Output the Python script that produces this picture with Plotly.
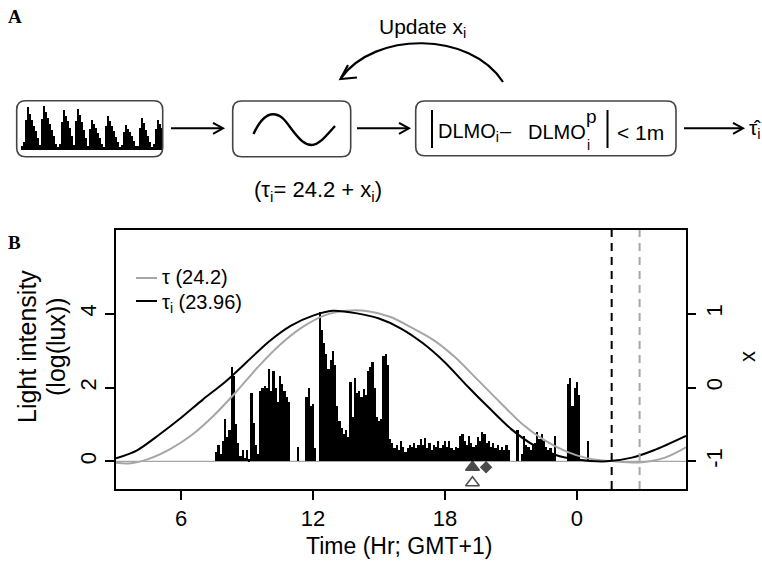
import plotly.graph_objects as go

W, H = 762, 561

# ---------------- data (panel B) ----------------
light_start = 7.5
light_step = 0.1
light_vals = [
    0, 0.25, 0.45, 0.2, 0.55, 1.15, 0.65, 0.85, 2.55, 2.3,          # 7.5-8.4
    1.0, 0.5, 0.15, 0.3, 0.1, 0.3, 0.05, 1.85, 1.05, 0.45,         # 8.5-9.4
    0.2, 1.9, 2.0, 2.05, 2.0, 2.5, 1.9, 2.45, 2.0, 1.6,            # 9.5-10.4
    2.3, 2.1, 1.9, 1.75, 1.6, 0, 0, 0, 0.4, 0,                     # 10.5-11.4
    0, 0, 1.75, 2.0, 1.5, 1.55, 0.35, 0, 4.05, 3.55,               # 11.5-12.4
    3.2, 2.9, 2.5, 2.75, 3.0, 2.6, 1.5, 1.1, 0.9, 0.75,            # 12.5-13.4
    0.85, 0.65, 2.15, 1.2, 2.25, 1.85, 1.9, 1.75, 1.95, 1.8,       # 13.5-14.4
    2.45, 2.55, 2.7, 2.0, 1.2, 1.1, 1.15, 2.85, 2.9, 2.6,          # 14.5-15.4
    0.6, 0.5, 0.35, 0.45, 0.3, 0.55, 0.4, 0.25, 0.35, 0.45,        # 15.5-16.4
    0.4, 0.5, 0.35, 0.45, 0.6, 0.45, 0.62, 0.35, 0.5, 0.3,         # 16.5-17.4
    0.45, 0.4, 0.55, 0.35, 0.45, 0.55, 0.4, 0.55, 0.35, 0.3,       # 17.5-18.4
    0.4, 0.35, 0.7, 0.75, 0.55, 0.45, 0.7, 0.5, 0.4, 0.45,         # 18.5-19.4
    0.65, 0.55, 0.8, 0.75, 0.5, 0.55, 0.4, 0.5, 0.35, 0.45,        # 19.5-20.4
    0.3, 0.4, 0.3, 0.45, 0.3, 0, 0, 0, 0.85, 0,                    # 20.5-21.4
    0.2, 0.7, 0.45, 0.4, 0.3, 0.45, 0.5, 0.8, 0.6, 0.75,           # 21.5-22.4
    0.55, 0.4, 0.3, 0.35, 0.2, 0.7, 0, 0, 0, 0,                    # 22.5-23.4
    0, 2.1, 2.25, 1.5, 2.0, 2.15, 1.8, 0, 0, 0,                    # 23.5-24.4
    0.55, 0,                                                       # 24.5-24.6
]
light_hours = [round(light_start + light_step * i, 2) for i in range(len(light_vals))]

# oscillator state x (right axis): tau_i = 23.96 (black) and tau = 24.2 (grey)
black_hours = [3.04, 4.0, 5.0, 6.0, 7.0, 8.0, 9.0, 10.0, 11.0, 12.0, 12.9, 14.0, 15.0,
               16.0, 17.0, 18.0, 19.0, 20.0, 21.0, 22.0, 23.0, 24.0, 25.36, 26.5, 27.5, 28.96]
black_x = [-0.96, -0.85, -0.64, -0.41, -0.16, 0.075, 0.35, 0.625, 0.84, 0.975, 1.04, 1.005, 0.935,
           0.8, 0.6, 0.34, 0.025, -0.275, -0.56, -0.775, -0.91, -0.975, -1.0, -0.95, -0.85, -0.655]
grey_hours = [3.04, 3.6, 4.5, 5.5, 6.5, 7.5, 8.5, 9.5, 10.5, 11.5, 12.5, 13.5, 14.5,
              15.5, 16.5, 17.5, 18.5, 19.5, 20.5, 21.5, 22.5, 23.5, 24.5, 25.7, 26.85, 28.0, 28.96]
grey_x = [-1.02, -1.03, -0.97, -0.835, -0.64, -0.375, -0.06, 0.28, 0.58, 0.815, 0.975, 1.04, 1.035,
          0.96, 0.81, 0.64, 0.4, 0.1, -0.2, -0.49, -0.71, -0.865, -0.96, -1.0, -1.015, -0.95, -0.81]

dlmo_black = 25.58
dlmo_grey = 26.85
marker_hours = [19.25, 19.87, 19.25]
marker_vals = [-0.16, -0.16, -0.58]
marker_symbols = ['triangle-up', 'diamond', 'triangle-up-open']
marker_sizes = [12, 8, 12]

x_tickvals = [6, 12, 18, 24]
x_ticktext = ['6', '12', '18', '0']
y_tickvals = [0, 2, 4]
y2_tickvals = [-1, 0, 1]
y2_ticktext = ['-1', '0', '1']

# ---------------- data (panel A icon: activity histogram) ----------------
mini_vals = [4, 8, 30, 43, 36, 30, 24, 19, 12, 5, 31, 44, 38, 32, 26, 20, 14, 6, 3, 6,
             28, 40, 34, 29, 22, 14, 5, 29, 41, 35, 28, 20, 12, 4, 21, 30, 26, 22, 17, 12,
             6, 3, 24, 34, 29, 24, 19, 13, 8, 3, 5, 18, 25, 21, 18, 14, 9, 4, 4, 22,
             32, 27, 20, 14, 8, 3, 6, 21, 30, 26, 22]
mini_x = [22 + 2 * i for i in range(len(mini_vals))]

FONT = "Liberation Sans, Arial, sans-serif"
SERIF = "Liberation Serif, Times New Roman, serif"
GREY = "#a6a6a6"

def P(px):
    return px / W

def Q(py):
    return 1 - py / H

fig = go.Figure()

# light bars
fig.add_trace(go.Bar(x=light_hours, y=light_vals, width=light_step,
                     marker=dict(color='black', line=dict(width=0)),
                     xaxis='x', yaxis='y', showlegend=False, hoverinfo='skip'))
# DLMO markers
fig.add_trace(go.Scatter(x=marker_hours, y=marker_vals, mode='markers',
                         marker=dict(symbol=marker_symbols, size=marker_sizes, color='black',
                                     line=dict(color='black', width=1.5)),
                         xaxis='x', yaxis='y', showlegend=False, hoverinfo='skip'))
# oscillator curves on the right axis
fig.add_trace(go.Scatter(x=grey_hours, y=grey_x, mode='lines',
                         line=dict(color=GREY, width=2, shape='spline', smoothing=0.8),
                         xaxis='x', yaxis='y2', showlegend=False, hoverinfo='skip'))
fig.add_trace(go.Scatter(x=black_hours, y=black_x, mode='lines',
                         line=dict(color='black', width=2, shape='spline', smoothing=0.8),
                         xaxis='x', yaxis='y2', showlegend=False, hoverinfo='skip'))

# mini histogram icon (panel A)
fig.add_trace(go.Bar(x=mini_x, y=[-v for v in mini_vals], base=150, width=2,
                     marker=dict(color='black', line=dict(width=0)),
                     xaxis='x3', yaxis='y3', showlegend=False, hoverinfo='skip'))

shapes = []
annotations = []

# baseline (grey) at 0
shapes.append(dict(type='line', xref='x domain', yref='y', x0=0, x1=1, y0=0, y1=0,
                   line=dict(color=GREY, width=1.2), layer='below'))
# DLMO dashed lines
shapes.append(dict(type='line', xref='x', yref='y domain', x0=dlmo_black, x1=dlmo_black, y0=0, y1=1,
                   line=dict(color='black', width=2, dash='8px,6px')))
shapes.append(dict(type='line', xref='x', yref='y domain', x0=dlmo_grey, x1=dlmo_grey, y0=0, y1=1,
                   line=dict(color=GREY, width=2, dash='8px,6px')))

# legend (manual)
shapes.append(dict(type='line', xref='paper', yref='paper', x0=P(136), x1=P(157), y0=Q(278), y1=Q(278),
                   line=dict(color=GREY, width=2)))
shapes.append(dict(type='line', xref='paper', yref='paper', x0=P(136), x1=P(157), y0=Q(301), y1=Q(301),
                   line=dict(color='black', width=2)))
annotations.append(dict(xref='paper', yref='paper', x=P(161), y=Q(277), xanchor='left', yanchor='middle',
                        text='τ (24.2)', showarrow=False, borderpad=0,
                        font=dict(size=20, color='black', family=FONT)))
annotations.append(dict(xref='paper', yref='paper', x=P(161), y=Q(303), xanchor='left', yanchor='middle',
                        text='τ<sub>i</sub> (23.96)', showarrow=False, borderpad=0,
                        font=dict(size=20, color='black', family=FONT)))

# axis titles panel B
annotations.append(dict(xref='paper', yref='paper', x=P(399), y=Q(546), xanchor='center', yanchor='middle',
                        text='Time (Hr; GMT+1)', showarrow=False, font=dict(size=23, color='black', family=FONT)))
annotations.append(dict(xref='paper', yref='paper', x=P(27), y=Q(347), xanchor='center', yanchor='middle',
                        text='Light intensity', textangle=-90, showarrow=False,
                        font=dict(size=25, color='black', family=FONT)))
annotations.append(dict(xref='paper', yref='paper', x=P(56), y=Q(347), xanchor='center', yanchor='middle',
                        text='(log(lux))', textangle=-90, showarrow=False,
                        font=dict(size=25, color='black', family=FONT)))
annotations.append(dict(xref='paper', yref='paper', x=P(747), y=Q(357), xanchor='center', yanchor='middle',
                        text='x', textangle=-90, showarrow=False,
                        font=dict(size=22, color='black', family=FONT)))

# panel labels
annotations.append(dict(xref='paper', yref='paper', x=P(6), y=Q(17), xanchor='left', yanchor='middle',
                        text='<b>A</b>', showarrow=False, font=dict(size=19, color='black', family=SERIF)))
annotations.append(dict(xref='paper', yref='paper', x=P(6), y=Q(243), xanchor='left', yanchor='middle',
                        text='<b>B</b>', showarrow=False, font=dict(size=19, color='black', family=SERIF)))

# ---------------- panel A diagram (pixel coordinates on hidden axes x3/y3) ----------------
def rrect(x0, y0, x1, y1, r):
    return (f"M{x0 + r},{y0} L{x1 - r},{y0} Q{x1},{y0} {x1},{y0 + r} L{x1},{y1 - r} "
            f"Q{x1},{y1} {x1 - r},{y1} L{x0 + r},{y1} Q{x0},{y1} {x0},{y1 - r} "
            f"L{x0},{y0 + r} Q{x0},{y0} {x0 + r},{y0} Z")

BOX = dict(color='#444444', width=1.6)
for (x0, y0, x1, y1) in [(16.7, 100.7, 162.7, 156.7), (232.7, 101, 350.7, 156.7), (415.7, 101, 676, 155.7)]:
    shapes.append(dict(type='path', xref='x3', yref='y3', path=rrect(x0, y0, x1, y1, 9), line=BOX))

def arrow(xa, xb, y):
    shapes.append(dict(type='line', xref='x3', yref='y3', x0=xa, x1=xb - 1, y0=y, y1=y,
                       line=dict(color='black', width=2)))
    shapes.append(dict(type='path', xref='x3', yref='y3',
                       path=f"M{xb - 10},{y - 5.5} L{xb},{y} L{xb - 10},{y + 5.5}",
                       line=dict(color='black', width=2)))

arrow(171, 223, 128.3)
arrow(357, 409, 128.3)
arrow(684, 743, 128.3)

# sine icon
shapes.append(dict(type='path', xref='x3', yref='y3',
                   path="M253.5,134 C260,120 266,114.3 273,114.3 C283,114.3 288,125 293,131 "
                        "C300,140 305,145 311.7,145 C319,145 326,136 335,126",
                   line=dict(color='black', width=2.4)))

# curved feedback arrow
shapes.append(dict(type='path', xref='x3', yref='y3',
                   path="M503,82 C470,31 375,31 341,78",
                   line=dict(color='black', width=2.2)))
shapes.append(dict(type='path', xref='x3', yref='y3',
                   path="M348,65 L340.5,79 L357,77.5",
                   line=dict(color='black', width=2.2)))

# vertical bars of the absolute value
for xb in (432, 607.5):
    shapes.append(dict(type='line', xref='x3', yref='y3', x0=xb, x1=xb, y0=110, y1=148,
                       line=dict(color='black', width=2)))

def ta(x, y, text, size=19, xanchor='left'):
    annotations.append(dict(xref='x3', yref='y3', x=x, y=y, xanchor=xanchor, yanchor='middle',
                            text=text, showarrow=False,
                            font=dict(size=size, color='black', family=FONT)))

ta(422, 28, 'Update x<sub>i</sub>', size=21, xanchor='center')
ta(318, 191, '(τ<sub>i</sub>= 24.2 + x<sub>i</sub>)', size=22, xanchor='center')
ta(436, 132, 'DLMO<sub>i</sub>', size=20)
ta(498, 131, '–', size=20)
ta(526, 132, 'DLMO', size=20)
ta(584, 116, 'p', size=19)
ta(585, 145, 'i', size=14)
ta(615, 132, '< 1m', size=21)
ta(747, 129, 'τ̂<sub>i</sub>', size=21)

fig.update_layout(
    width=W, height=H,
    margin=dict(l=0, r=0, t=0, b=0),
    paper_bgcolor='white', plot_bgcolor='rgba(0,0,0,0)',
    font=dict(family=FONT, color='black', size=21),
    showlegend=False,
    bargap=0,
    xaxis=dict(domain=[P(116), P(686)], range=[3.04, 28.96], tickvals=x_tickvals, ticktext=x_ticktext,
               ticks='outside', ticklen=9, tickwidth=1.5, tickcolor='black',
               showline=True, linecolor='black', linewidth=1.5, mirror=True,
               showgrid=False, zeroline=False, tickfont=dict(size=22), anchor='y'),
    yaxis=dict(domain=[Q(489), Q(230)], range=[-0.75, 6.27], tickvals=y_tickvals,
               ticks='outside', ticklen=9, tickwidth=1.5, tickcolor='black', tickangle=-90,
               showline=True, linecolor='black', linewidth=1.5, mirror=True,
               showgrid=False, zeroline=False, tickfont=dict(size=22), anchor='x'),
    yaxis2=dict(overlaying='y', side='right', range=[(-0.75 - 2) / 2, (6.27 - 2) / 2],
                tickvals=y2_tickvals, ticktext=y2_ticktext,
                ticks='outside', ticklen=9, tickwidth=1.5, tickcolor='black', tickangle=-90,
                showline=False, showgrid=False, zeroline=False, tickfont=dict(size=22), anchor='x'),
    xaxis3=dict(domain=[0, 1], range=[0, W], visible=False, anchor='y3', fixedrange=True),
    yaxis3=dict(domain=[Q(220), 1], range=[220, 0], visible=False, anchor='x3', fixedrange=True),
    shapes=shapes,
    annotations=annotations,
)

fig.write_html("out.html")
